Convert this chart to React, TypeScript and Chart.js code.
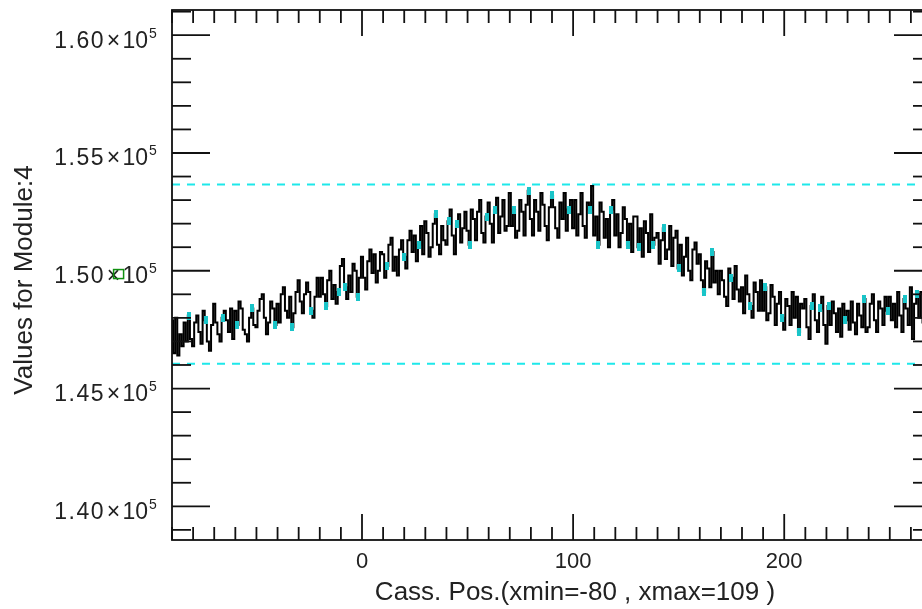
import React, { useEffect, useRef } from "react";
import { Chart, registerables } from "chart.js";

Chart.register(...registerables);

// ---- data ----
const xStart = -90; // first cassette position, one value per unit step
const values: number[] = [
  147900, 146500, 148000, 146400, 147300, 146800, 147800, 147000, 148100, 147100,
  146800, 147800, 148100, 147400, 146900, 148300, 147900, 147000, 146600, 147700,
  148600, 147800, 147300, 147000, 148000, 148300, 147900, 147400, 148400, 147100,
  148300, 147700, 148700, 148400, 147500, 147300, 147000, 148000, 148400, 147700,
  147600, 148300, 148800, 149000, 148000, 147300, 147800, 148700, 148400, 147700,
  148600, 147800, 149000, 149300, 148300, 148000, 148900, 147600, 148200, 149100,
  149600, 148700, 148200, 149000, 149500, 149100, 148300, 148000, 148900, 149700,
  148900, 149700, 149000, 148500, 149600, 150000, 148800, 149400, 148600, 149100,
  150200, 150500, 149300, 148800, 149800, 149100, 150300, 150000, 148900, 149700,
  150600, 149700, 149200, 150400, 150900, 149900, 150700, 149500, 150000, 150800,
  150700, 149700, 150200, 151100, 151400, 150000, 150600, 149800, 150900, 151300,
  150600, 150100, 151300, 151700, 150800, 151500, 150400, 151100, 151900, 150700,
  152100, 151600, 150600, 151000, 152000, 152400, 151100, 150700, 151900, 151300,
  151100, 152100, 152600, 151500, 150700, 152000, 152400, 151200, 151800, 152500,
  151700, 151100, 152600, 152200, 151300, 152500, 153000, 151600, 151200, 152300,
  152900, 152000, 151200, 152600, 153100, 151600, 152300, 153000, 151700, 151900,
  153300, 151900, 152600, 151400, 151700, 153000, 152500, 151500, 152800, 153400,
  152200, 151500, 153000, 152500, 151700, 153300, 152800, 151900, 151300, 152700,
  153200, 152700, 151800, 151400, 152900, 152200, 153300, 151700, 152600, 153000,
  151800, 153000, 151500, 152400, 153300, 151900, 151400, 152900, 152600, 153600,
  151500, 152300, 151100, 152900, 152500, 151400, 152200, 151000, 152600, 153000,
  151500, 152400, 151000, 151600, 152700, 152200, 151100, 152000, 150800, 152300,
  152300, 151000, 151800, 150600, 152100, 151600, 150800, 152400, 151100, 151400,
  151600, 150300, 151300, 151800, 150500, 150900, 151900, 150200, 151400, 151700,
  150100, 151100, 149800, 150600, 151400, 150000, 149600, 150900, 151200, 150300,
  150700, 149600, 149100, 150400, 150100, 149300, 150800, 149500, 150000, 149000,
  150000, 149600, 148900, 148500, 150100, 149700, 148800, 150200, 149200, 148700,
  149300, 148200, 149800, 149000, 148500, 148000, 149500, 149100, 148300, 149600,
  148300, 149300, 147900, 148200, 149400, 148900, 147700, 148600, 149100, 148000,
  147500, 148800, 148500, 147700, 149100, 148000, 148900, 147400, 148600, 148400,
  148800, 147600, 147100, 148500, 149000, 147900, 147400, 148400, 148900, 147700,
  146900, 148500, 147700, 148700, 148200, 147400, 148400, 147200, 148600, 147900,
  148300, 147500, 148700, 147800, 147300, 148600, 148100, 147600, 148800, 147400,
  147600, 148600, 149000, 147900, 147400, 148700, 148400, 147700, 148900, 148300,
  148900, 147900, 148600, 147600, 149100, 148100, 147400, 148800, 148400, 147700,
  149300, 147100, 148600, 149000, 148000, 149100, 147800, 148700, 148200, 148900,
  148500,
];

// positions highlighted in cyan
const cyanPositions: number[] = [
  -82, -74, -66, -59, -52, -41, -33, -24, -17, -11, -8, -2, 12, 20, 27, 35, 41, 45, 51, 59,
  63, 72, 79, 90, 98, 108, 112, 118, 126, 131, 138, 143, 150, 162, 166, 175, 184, 191, 199,
  207, 213, 217, 221, 229, 238, 249, 257, 263,
];

const meanValue = 149860;
const upperLimit = 153664;
const lowerLimit = 146056;
const meanMarkerX = -115.3;

const xMin = -90;
const xMax = 270;
const yMin = 138570;
const yMax = 161070;

const xMajorTicks = [0, 100, 200];
const xMajorLabels = ["0", "100", "200"];
const xMinorStep = 10;
const yMajorTicks = [140000, 145000, 150000, 155000, 160000];
const yMantissaLabels = ["1.40", "1.45", "1.50", "1.55", "1.60"];
const yExponentLabel = "5";
const yMinorStep = 1000;

const xTitle = "Cass. Pos.(xmin=-80 , xmax=109 )";
const yTitle = "Values for Module:4";

const FONT = '"Liberation Sans", Arial, Helvetica, sans-serif';

const idlAxes = {
  id: "idlAxes",
  afterDatasetsDraw(chart: any) {
    const { ctx, chartArea: a, scales } = chart;
    const x = scales.x;
    const y = scales.y;
    ctx.save();
    ctx.strokeStyle = "#111";
    ctx.lineWidth = 1.8;
    ctx.lineCap = "butt";
    const line = (x1: number, y1: number, x2: number, y2: number) => {
      ctx.beginPath();
      ctx.moveTo(x1, y1);
      ctx.lineTo(x2, y2);
      ctx.stroke();
    };
    ctx.strokeRect(a.left, a.top, a.right - a.left, a.bottom - a.top);
    // x ticks (bottom and top)
    for (let v = Math.ceil(xMin / xMinorStep) * xMinorStep; v <= xMax; v += xMinorStep) {
      const px = x.getPixelForValue(v);
      const len = xMajorTicks.includes(v) ? 26 : 13;
      line(px, a.bottom, px, a.bottom - len);
      line(px, a.top, px, a.top + len);
    }
    // y ticks (left and right)
    for (let v = Math.ceil(yMin / yMinorStep) * yMinorStep; v <= yMax; v += yMinorStep) {
      const py = y.getPixelForValue(v);
      const len = yMajorTicks.includes(v) ? 38 : 19;
      line(a.left, py, a.left + len, py);
      line(a.right, py, a.right - len, py);
    }
    ctx.fillStyle = "#222";
    // x labels
    ctx.font = `22px ${FONT}`;
    ctx.textAlign = "center";
    ctx.textBaseline = "alphabetic";
    xMajorTicks.forEach((v, i) => {
      ctx.fillText(xMajorLabels[i], x.getPixelForValue(v), 568);
    });
    // y labels  m × 10^5
    yMajorTicks.forEach((v, i) => {
      const py = y.getPixelForValue(v);
      ctx.font = `23px ${FONT}`;
      ctx.textAlign = "right";
      (ctx as any).letterSpacing = "1.5px";
      ctx.fillText(yMantissaLabels[i], a.left - 67, py + 12.5);
      (ctx as any).letterSpacing = "0px";
      ctx.textAlign = "center";
      ctx.fillText("×", a.left - 58.5, py + 12.5);
      ctx.textAlign = "right";
      ctx.fillText("10", a.left - 24, py + 12.5);
      ctx.font = `14px ${FONT}`;
      ctx.textAlign = "left";
      ctx.fillText(yExponentLabel, a.left - 23, py + 2.5);
    });
    // titles
    ctx.font = `26px ${FONT}`;
    ctx.textAlign = "center";
    ctx.fillText(xTitle, 575, 600);
    ctx.save();
    ctx.translate(32, (a.top + a.bottom) / 2 + 5);
    ctx.rotate(-Math.PI / 2);
    ctx.fillText(yTitle, 0, 0);
    ctx.restore();
    // mean marker (green square, outside the plot area)
    const gx = x.getPixelForValue(meanMarkerX);
    const gy = y.getPixelForValue(meanValue);
    ctx.strokeStyle = "#109010";
    ctx.lineWidth = 1.5;
    ctx.strokeRect(gx - 5, gy - 4.5, 10, 9);
    ctx.restore();
  },
};

export default function App() {
  const ref = useRef<HTMLCanvasElement | null>(null);
  useEffect(() => {
    if (!ref.current) return;
    const mark = document.createElement("canvas");
    mark.width = 4;
    mark.height = 8;
    const mctx = mark.getContext("2d")!;
    mctx.fillStyle = "#19c4c8";
    mctx.fillRect(0, 0, 4, 8);

    const series = values.map((v, i) => ({ x: xStart + i, y: v }));
    const cyan = cyanPositions.map((p) => ({ x: p, y: values[p - xStart] }));

    const chart = new Chart(ref.current, {
      type: "line",
      data: {
        datasets: [
          {
            data: cyan,
            showLine: false,
            pointStyle: mark as any,
            pointRadius: 4,
            order: 0,
          },
          {
            data: series,
            borderColor: "#000",
            borderWidth: 2,
            stepped: "middle",
            pointRadius: 0,
            order: 1,
          },
          {
            data: [
              { x: xMin, y: upperLimit },
              { x: xMax, y: upperLimit },
            ],
            borderColor: "#1ee8ea",
            borderWidth: 2,
            borderDash: [8, 7],
            pointRadius: 0,
            order: 2,
          },
          {
            data: [
              { x: xMin, y: lowerLimit },
              { x: xMax, y: lowerLimit },
            ],
            borderColor: "#1ee8ea",
            borderWidth: 2,
            borderDash: [8, 7],
            pointRadius: 0,
            order: 2,
          },
        ],
      } as any,
      options: {
        animation: false,
        responsive: true,
        maintainAspectRatio: false,
        layout: { padding: { left: 172, top: 10, right: 8, bottom: 69 } },
        plugins: { legend: { display: false }, tooltip: { enabled: false } },
        events: [],
        scales: {
          x: { type: "linear", min: xMin, max: xMax, display: false },
          y: { type: "linear", min: yMin, max: yMax, display: false },
        },
      },
      plugins: [idlAxes],
    });
    return () => chart.destroy();
  }, []);

  return (
    <div style={{ position: "fixed", left: 0, top: 0, width: 940, height: 609, background: "#fff" }}>
      <canvas ref={ref} />
    </div>
  );
}
